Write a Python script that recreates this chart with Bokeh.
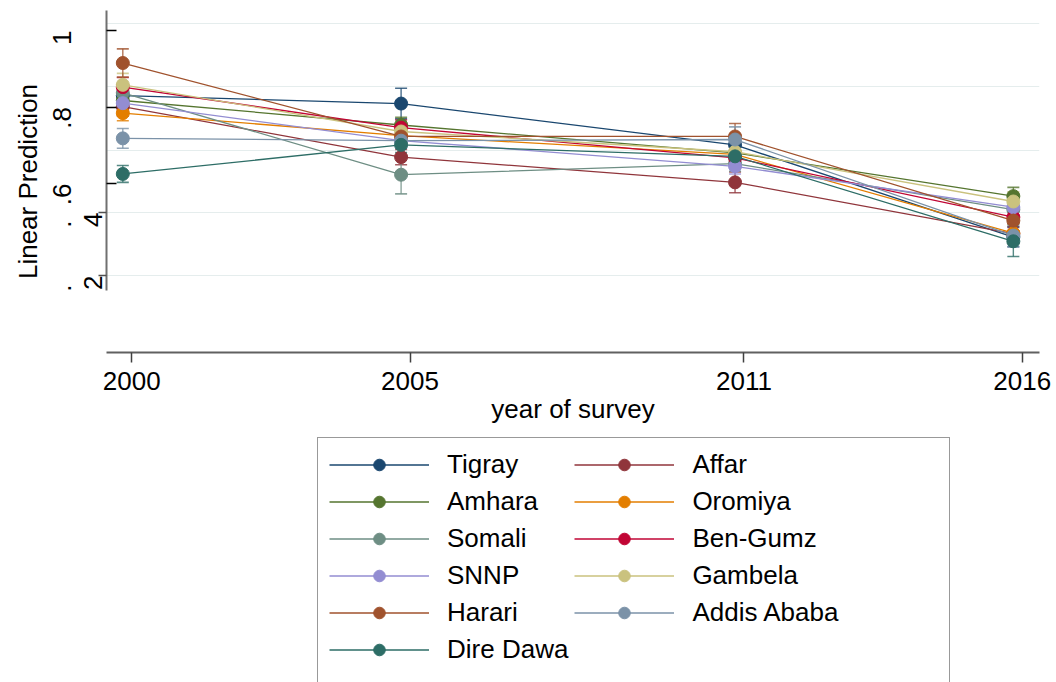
import math
from bokeh.plotting import figure
from bokeh.layouts import column
from bokeh.models import FixedTicker, Legend, LegendItem, Range1d, LinearAxis
from bokeh.embed import file_html
from bokeh.resources import INLINE

# ---------------- data ----------------
years = [2000, 2005, 2011, 2016]
regions = ["Tigray", "Affar", "Amhara", "Oromiya", "Somali", "Ben-Gumz",
           "SNNP", "Gambela", "Harari", "Addis Ababa", "Dire Dawa"]

tigray   = [0.830, 0.809, 0.701, 0.460]
affar    = [0.801, 0.669, 0.603, 0.469]
amhara   = [0.817, 0.753, 0.680, 0.567]
oromiya  = [0.784, 0.725, 0.676, 0.470]
somali   = [0.837, 0.623, 0.652, 0.532]
bengumz  = [0.852, 0.746, 0.667, 0.512]
snnp     = [0.810, 0.712, 0.645, 0.538]
gambela  = [0.858, 0.736, 0.683, 0.553]
harari   = [0.915, 0.723, 0.723, 0.503]
addis    = [0.718, 0.712, 0.715, 0.464]
diredawa = [0.625, 0.701, 0.671, 0.449]

# half-width of the 95% confidence intervals
tigray_ci   = [0.020, 0.040, 0.020, 0.025]
affar_ci    = [0.025, 0.020, 0.027, 0.025]
amhara_ci   = [0.020, 0.020, 0.020, 0.023]
oromiya_ci  = [0.020, 0.020, 0.020, 0.025]
somali_ci   = [0.020, 0.050, 0.020, 0.030]
bengumz_ci  = [0.025, 0.020, 0.020, 0.025]
snnp_ci     = [0.020, 0.020, 0.020, 0.025]
gambela_ci  = [0.030, 0.020, 0.020, 0.025]
harari_ci   = [0.037, 0.025, 0.034, 0.030]
addis_ci    = [0.026, 0.020, 0.033, 0.030]
diredawa_ci = [0.022, 0.020, 0.020, 0.040]

values = [tigray, affar, amhara, oromiya, somali, bengumz, snnp, gambela,
          harari, addis, diredawa]
cis = [tigray_ci, affar_ci, amhara_ci, oromiya_ci, somali_ci, bengumz_ci,
       snnp_ci, gambela_ci, harari_ci, addis_ci, diredawa_ci]
colors = ["#1a476f", "#90353b", "#55752f", "#e37e00", "#6e8e84", "#c10534",
          "#938dd2", "#cac27e", "#a0522d", "#7b92a8", "#2d6d66"]

x_tick_labels = ["2000", "2005", "2011", "2016"]
y_outer_ticks = [1.0, 0.8, 0.6, 0.5033, 0.3360]
y_outer_labels = ["1", ".8", ".6", ".", "."]
y_inner_ticks = [0.5242, 0.3595]
y_inner_labels = ["4", "2"]
y_inner_minor = [0.6, 0.8, 1.0]
grid_values = [1.0183, 0.8536, 0.6863, 0.5242, 0.3595]

FONT = "Liberation Sans"

p = figure(width=1056, height=436,
           x_range=Range1d(1999.707, 2016.47), y_range=Range1d(0.1582, 1.0523),
           output_backend="svg", toolbar_location=None,
           min_border_left=106, min_border_right=17, min_border_top=10,
           min_border_bottom=84)
p.outline_line_color = None
p.background_fill_color = "white"
p.border_fill_color = "white"

# grid
p.xgrid.grid_line_color = None
p.ygrid.ticker = FixedTicker(ticks=grid_values)
p.ygrid.grid_line_color = "#e5eded"
p.ygrid.grid_line_width = 1

# inner y axis: line, ticks, labels "4" and "2"
yax = p.yaxis[0]
yax.ticker = FixedTicker(ticks=y_inner_ticks, minor_ticks=y_inner_minor)
yax.major_label_overrides = {v: s for v, s in zip(y_inner_ticks, y_inner_labels)}
yax.bounds = (0.3203, 1.0523)
yax.axis_line_color = "#707070"
yax.axis_line_width = 2
yax.major_tick_in = 0
yax.major_tick_out = 8
yax.major_tick_line_color = "#505050"
yax.major_tick_line_width = 1.5
yax.minor_tick_in = 10
yax.minor_tick_out = 0
yax.minor_tick_line_color = "black"
yax.minor_tick_line_width = 1.5
yax.major_label_orientation = math.pi / 2
yax.major_label_standoff = 5
yax.major_label_text_font = FONT
yax.major_label_text_font_size = "26px"
yax.major_label_text_color = "black"

# outer y axis: labels "1", ".8", ".6" and the axis title
oax = LinearAxis(ticker=FixedTicker(ticks=y_outer_ticks))
oax.major_label_overrides = {v: s for v, s in zip(y_outer_ticks, y_outer_labels)}
oax.bounds = (0.2209, 1.0523)
oax.axis_line_color = None
oax.major_tick_line_color = None
oax.minor_tick_line_color = None
oax.major_tick_in = 0
oax.major_tick_out = 0
oax.major_label_orientation = math.pi / 2
oax.major_label_standoff = 10
oax.major_label_text_font = FONT
oax.major_label_text_font_size = "26px"
oax.major_label_text_color = "black"
oax.axis_label = "Linear Prediction"
oax.axis_label_text_font = FONT
oax.axis_label_text_font_size = "26px"
oax.axis_label_text_font_style = "normal"
oax.axis_label_text_color = "black"
oax.axis_label_standoff = -1
p.add_layout(oax, "left")

# x axis (ticks drawn slightly right of the data, as in the reference)
xax = p.xaxis[0]
x_ticks = [y + 0.16 for y in years]
xax.ticker = FixedTicker(ticks=x_ticks)
xax.major_label_overrides = {t: s for t, s in zip(x_ticks, x_tick_labels)}
xax.axis_line_color = "#606060"
xax.axis_line_width = 2
xax.major_tick_in = 0
xax.major_tick_out = 10
xax.major_tick_line_color = "#404040"
xax.major_tick_line_width = 1.5
xax.minor_tick_line_color = None
xax.major_label_standoff = 9
xax.major_label_text_font = FONT
xax.major_label_text_font_size = "26px"
xax.major_label_text_color = "black"
xax.axis_label = "year of survey"
xax.axis_label_text_font = FONT
xax.axis_label_text_font_size = "26px"
xax.axis_label_text_font_style = "normal"
xax.axis_label_text_color = "black"
xax.axis_label_standoff = 1

# confidence interval caps
for vals, ci, c in zip(values, cis, colors):
    lo = [v - e for v, e in zip(vals, ci)]
    hi = [v + e for v, e in zip(vals, ci)]
    p.segment(x0=years, y0=lo, x1=years, y1=hi, line_color=c, line_width=1.4, line_alpha=0.8)
    p.scatter(years, lo, marker="dash", size=12, line_color=c, line_width=1.6, line_alpha=0.8)
    p.scatter(years, hi, marker="dash", size=12, line_color=c, line_width=1.6, line_alpha=0.8)

for name, vals, c in zip(regions, values, colors):
    p.line(years, vals, line_color=c, line_width=1.3)
    p.scatter(years, vals, marker="circle", size=13, fill_color=c, line_color=c)

# ---------------- legend panel ----------------
# (its own ranges keep these legend renderers out of view; only the legend shows)
p2 = figure(width=1056, height=246, x_range=Range1d(0, 1), y_range=Range1d(0, 1),
            x_axis_type=None, y_axis_type=None, output_backend="svg",
            toolbar_location=None, min_border=0)
p2.outline_line_color = None
p2.xgrid.grid_line_color = None
p2.ygrid.grid_line_color = None
p2.background_fill_color = "white"
p2.border_fill_color = "white"

items = {}
for name, vals, c in zip(regions, values, colors):
    lr = p2.line(years, vals, line_color=c, line_width=1.3)
    sr = p2.scatter(years, vals, marker="circle", fill_color=c, line_color=c)
    items[name] = LegendItem(label=name, renderers=[lr, sr])
blank = p2.line(x=[], y=[], line_alpha=0)

col1 = ["Tigray", "Amhara", "Somali", "SNNP", "Harari", "Dire Dawa"]
col2 = ["Affar", "Oromiya", "Ben-Gumz", "Gambela", "Addis Ababa"]
# blank spacer rows (below the visible area) keep the box open at the bottom
# and give the second column its wider box
legend_items = ([items[n] for n in col1] + [LegendItem(label=" ", renderers=[blank])]
                + [items[n] for n in col2]
                + [LegendItem(label="\u00a0" * 34, renderers=[blank])])
legend = Legend(items=legend_items, location=(211, -30),
                ncols=2, glyph_width=100, glyph_height=29, label_height=29,
                label_standoff=18, spacing=6, padding=11, margin=0,
                label_text_font=FONT, label_text_font_size="26px",
                label_text_color="black", border_line_color="#333333",
                border_line_width=1, background_fill_color="white",
                background_fill_alpha=1)
p2.add_layout(legend, "center")

layout = column(p, p2, spacing=0)
open("out.html", "w").write(file_html(layout, INLINE))
